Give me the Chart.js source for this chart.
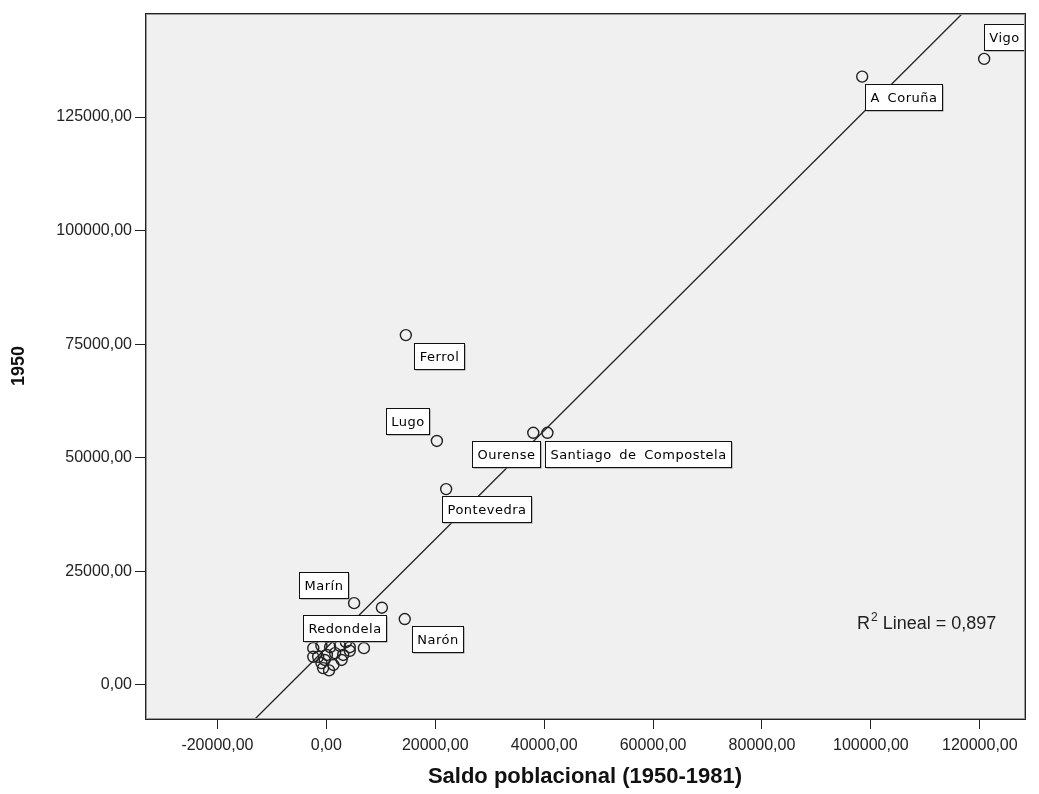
<!DOCTYPE html>
<html>
<head>
<meta charset="utf-8">
<script src="https://cdn.jsdelivr.net/npm/chart.js@4/dist/chart.umd.min.js"></script>
<style>
  html, body { margin: 0; padding: 0; background: #fff; }
  #wrap { width: 1039px; height: 794px; }
</style>
</head>
<body>
<div id="wrap"><canvas id="myChart" width="1039" height="794"></canvas></div>
<script>
// municipios (labelled ones first, then the unlabelled cluster)
const names = ['Vigo', 'A Coruña', 'Ferrol', 'Lugo', 'Ourense', 'Santiago de Compostela',
  'Pontevedra', 'Marín', 'Redondela', 'Narón',
  '', '', '', '', '', '', '', '', '', '', '', '', '', '', '', '', '', '', ''];
// Saldo poblacional (1950-1981)
const saldo = [120800, 98400, 14600, 20300, 38000, 40600, 22000, 5100, 10200, 14400,
  6900, -2400, -900, 700, 2500, 4300, -1500, 100, 1600, 3100, -900, 1300, -600, -2400, 4300, 2800, -300, 500, 3600];
// población 1950
const pob1950 = [137800, 133900, 77000, 53700, 55500, 55500, 43100, 18000, 17000, 14500,
  8100, 8100, 8600, 8300, 8600, 8300, 6200, 6600, 7000, 6600, 4800, 4400, 3700, 6200, 7500, 5500, 5500, 3200, 9400];

// regression line, where it meets the frame
const fitX = [-13100, 116900];
const fitY = [-7500, 147900];
const r2Text = '0,897';

const xTicks = [-20000, 0, 20000, 40000, 60000, 80000, 100000, 120000];
const yTicks = [0, 25000, 50000, 75000, 100000, 125000];

// label box offsets from the point (px)
const labelOffsets = {
  'Vigo': [20, -22], 'A Coruña': [41, 20], 'Ferrol': [33, 21], 'Lugo': [-29, -20],
  'Ourense': [-27, 21], 'Santiago de Compostela': [91, 21], 'Pontevedra': [40, 20],
  'Marín': [-31, -18], 'Redondela': [-37, 20], 'Narón': [33, 20]
};

const fmt = v => v.toFixed(2).replace('.', ',');

const bgPlugin = {
  id: 'bg',
  beforeDraw(chart) {
    const { ctx, chartArea: a } = chart;
    ctx.save();
    ctx.fillStyle = '#fff';
    ctx.fillRect(0, 0, chart.width, chart.height);
    ctx.fillStyle = '#f0f0f0';
    ctx.fillRect(a.left, a.top, a.right - a.left, a.bottom - a.top);
    ctx.restore();
  },
  afterDraw(chart) {
    const { ctx, chartArea: a } = chart;
    ctx.save();
    ctx.strokeStyle = '#999';
    ctx.lineWidth = 1;
    ctx.strokeRect(a.left + 1.5, a.top + 1.5, a.right - a.left - 2, a.bottom - a.top - 2);
    ctx.strokeStyle = '#222';
    ctx.strokeRect(a.left + 0.5, a.top + 0.5, a.right - a.left, a.bottom - a.top);
    ctx.restore();
  }
};

const labelPlugin = {
  id: 'boxLabels',
  afterDatasetsDraw(chart) {
    const { ctx } = chart;
    const meta = chart.getDatasetMeta(1);
    ctx.save();
    ctx.font = '13px "DejaVu Sans"';
    ctx.letterSpacing = '0.5px';
    ctx.wordSpacing = '3px';
    ctx.textAlign = 'center';
    ctx.textBaseline = 'middle';
    names.forEach((n, i) => {
      const off = labelOffsets[n];
      if (!off) return;
      const pt = meta.data[i];
      const cx = pt.x + off[0], cy = pt.y + off[1];
      const w = Math.round(ctx.measureText(n).width + 10);
      const h = 26;
      const x0 = Math.round(cx - w / 2) + 0.5, y0 = Math.round(cy - h / 2) + 0.5;
      ctx.fillStyle = '#888';
      ctx.fillRect(x0 + 1, y0 + 1, w, h);
      ctx.fillStyle = '#fff';
      ctx.fillRect(x0, y0, w, h);
      ctx.strokeStyle = '#111';
      ctx.lineWidth = 1;
      ctx.strokeRect(x0, y0, w, h);
      ctx.fillStyle = '#000';
      ctx.fillText(n, x0 + w / 2, y0 + h / 2 + 1);
    });
    ctx.restore();
  }
};

const r2Plugin = {
  id: 'r2',
  afterDraw(chart) {
    const { ctx, chartArea: a } = chart;
    const x = a.right - 168, y = a.bottom - 90;
    ctx.save();
    ctx.fillStyle = '#222';
    ctx.textBaseline = 'alphabetic';
    ctx.font = '18px "Liberation Sans"';
    ctx.fillText('R', x, y);
    let w = ctx.measureText('R').width;
    ctx.font = '12px "Liberation Sans"';
    ctx.fillText('2', x + w + 1, y - 8);
    w += ctx.measureText('2').width + 1;
    ctx.font = '18px "Liberation Sans"';
    ctx.fillText(' Lineal = ' + r2Text, x + w, y);
    ctx.restore();
  }
};

Chart.defaults.font.family = '"Liberation Sans", Arial, sans-serif';
Chart.defaults.color = '#222';

const ctx = document.getElementById('myChart').getContext('2d');
const chart = new Chart(ctx, {
  data: {
    datasets: [{
      type: 'line',
      data: fitX.map((x, i) => ({ x: x, y: fitY[i] })),
      borderColor: '#222',
      borderWidth: 1.3,
      pointRadius: 0,
      fill: false
    }, {
      type: 'scatter',
      data: saldo.map((x, i) => ({ x: x, y: pob1950[i] })),
      borderColor: '#222',
      borderWidth: 1.4,
      backgroundColor: 'rgba(0,0,0,0)',
      pointRadius: 5.5
    }]
  },
  options: {
    responsive: false,
    animation: false,
    devicePixelRatio: 1,
    layout: { padding: { top: 13, right: 14, left: 0, bottom: 0 } },
    plugins: { legend: { display: false }, tooltip: { enabled: false } },
    scales: {
      x: {
        type: 'linear',
        min: -33300,
        max: 128300,
        afterBuildTicks: axis => { axis.ticks = xTicks.map(v => ({ value: v })); },
        afterFit: s => { s.height = 75; },
        ticks: { callback: v => fmt(v), font: { size: 16 }, padding: 7, maxRotation: 0 },
        grid: { drawOnChartArea: false, drawTicks: true, tickLength: 10, tickColor: '#222' },
        border: { display: true, color: '#222' },
        title: { display: true, text: 'Saldo poblacional (1950-1981)',
          font: { size: 22, weight: 'bold' }, padding: { bottom: 4 }, color: '#111' }
      },
      y: {
        type: 'linear',
        min: -7500,
        max: 147900,
        afterBuildTicks: axis => { axis.ticks = yTicks.map(v => ({ value: v })); },
        afterFit: s => { s.width = 145; },
        ticks: { callback: v => fmt(v), font: { size: 16 }, padding: 3 },
        grid: { drawOnChartArea: false, drawTicks: true, tickLength: 10, tickColor: '#222' },
        border: { display: true, color: '#222' },
        title: { display: true, text: '1950',
          font: { size: 18, weight: 'bold' }, padding: { top: 8 }, color: '#111' }
      }
    }
  },
  plugins: [bgPlugin, labelPlugin, r2Plugin]
});
</script>
</body>
</html>
